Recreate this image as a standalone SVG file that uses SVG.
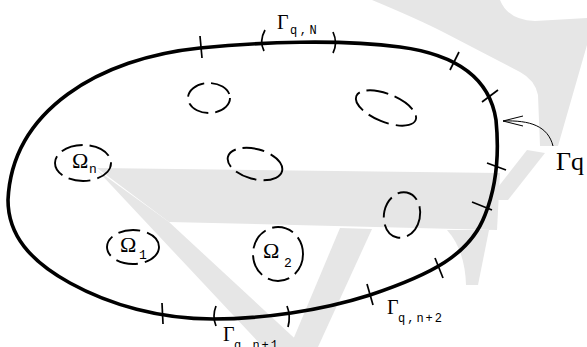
<svg xmlns="http://www.w3.org/2000/svg" width="587" height="347" viewBox="0 0 587 347">
<style>
.wm{fill:#e6e6e6;stroke:none}
.bd{fill:none;stroke:#000;stroke-width:3.6;stroke-linejoin:round}
.tk{fill:none;stroke:#000;stroke-width:1.7;stroke-linecap:butt}
.hole{fill:none;stroke:#000;stroke-width:1.9;stroke-dasharray:22 7}
.ar{fill:none;stroke:#000;stroke-width:1}
.g{font-family:"Liberation Serif","DejaVu Serif",serif;fill:#000}
.s{font-family:"Liberation Mono","DejaVu Sans Mono",monospace;fill:#000}
</style>
<rect width="587" height="347" fill="#fff"/>
<g id="watermark">
<path class="wm" d="M372,0 L500,0 Q508,20 535,21 L587,18 L587,45 L558,146 L540,146 L538,95 Q535,80 520,72 L445,33 Q420,20 372,0 Z"/>
<path class="wm" d="M527,150 L545,153 L508,200 L488,200 Z"/>
<path class="wm" d="M97,168 L500,173 L497,230 L169,222 Z"/>
<path class="wm" d="M97,170 L169,222 L304,347 L263,347 Z"/>
<path class="wm" d="M340,228 L372,229 L318,347 L290,347 Z"/>
<path class="wm" d="M447,230 Q465,250 466,285 L478,285 L500,175 L490,230 Z"/>
</g>
<g id="boundary">
<path class="bd" d="M8,200 C12,110 100,58 200,48 C260,42 340,39 400,47 C460,55 490,80 496,120 C499,150 497,185 485,215 C470,255 430,275 370,295 C320,311 262,319 213,319 C160,319 110,305 70,283 C30,261 8,235 8,200 Z"/>
</g>
<g id="ticks">
<path class="tk" d="M200,36 L202,58"/>
<path class="tk" d="M265,30 Q259,41 264,51"/>
<path class="tk" d="M333,32 Q338,43 333,53"/>
<path class="tk" d="M450,70 L459,52"/>
<path class="tk" d="M482,102 L498,90"/>
<path class="tk" d="M487,163 L506,170"/>
<path class="tk" d="M472,202 L492,210"/>
<path class="tk" d="M435,258 L443,278"/>
<path class="tk" d="M367,284 L373,305"/>
<path class="tk" d="M287,306 Q291,316 288,327"/>
<path class="tk" d="M216,306 Q212,316 216,326"/>
<path class="tk" d="M162,303 L163,324"/>
</g>
<g id="hole-a"><ellipse class="hole" cx="209" cy="98" rx="21" ry="15"/></g>
<g id="hole-b"><ellipse class="hole" cx="386" cy="108" rx="32" ry="14" transform="rotate(22 386 108)"/></g>
<g id="hole-c"><ellipse class="hole" cx="255" cy="164" rx="28" ry="15" transform="rotate(15 255 164)"/></g>
<g id="hole-d"><ellipse class="hole" cx="402" cy="215" rx="18" ry="23" transform="rotate(12 402 215)"/></g>
<g id="omega-n"><ellipse class="hole" cx="83" cy="163" rx="28" ry="18"/>
<text class="g" x="72" y="168" font-size="22">Ω</text><text class="s" x="89" y="173" font-size="13">n</text></g>
<g id="omega-1"><ellipse class="hole" cx="133" cy="247" rx="26" ry="17"/>
<text class="g" x="120" y="252" font-size="22">Ω</text><text class="s" x="139" y="259" font-size="13">1</text></g>
<g id="omega-2"><ellipse class="hole" cx="278" cy="254" rx="25" ry="27"/>
<text class="g" x="263" y="258" font-size="22">Ω</text><text class="s" x="284" y="267" font-size="13">2</text></g>
<g id="label-N"><text class="g" x="277" y="29" font-size="20">Γ</text><text class="s" x="290" y="34" font-size="12" letter-spacing="2.5">q,N</text></g>
<g id="label-n2"><text class="g" x="387" y="314" font-size="20">Γ</text><text class="s" x="398" y="322" font-size="12" letter-spacing="2">q,n+2</text></g>
<g id="label-n1"><text class="g" x="223" y="341" font-size="20">Γ</text><text class="s" x="234" y="349" font-size="12" letter-spacing="2">q,n+1</text></g>
<g id="label-q"><text class="g" x="556" y="170" font-size="26">Γq</text></g>
<g id="connectors">
<path class="ar" d="M553,146 C548,126 530,120 503,121"/>
<path class="ar" d="M523,116 L503,121 L523,126"/>
</g>
</svg>
